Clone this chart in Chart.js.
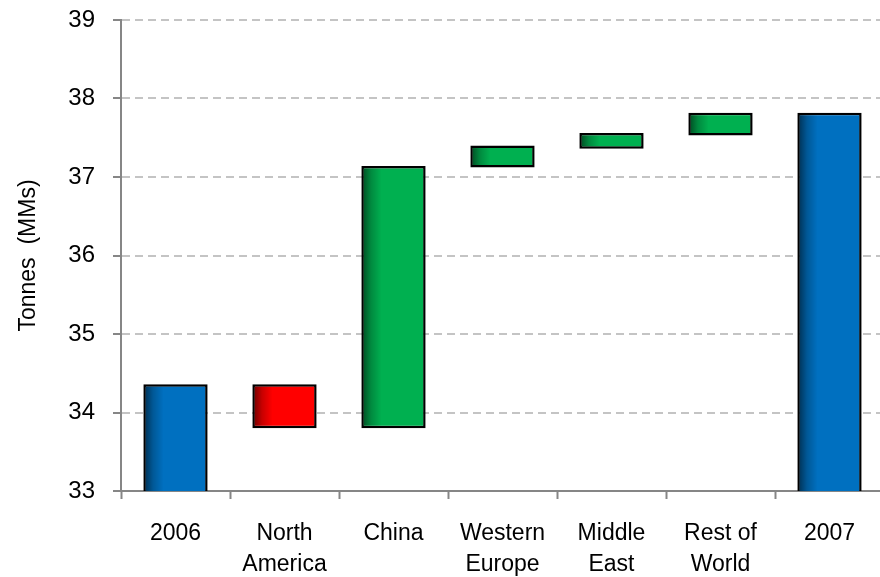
<!DOCTYPE html>
<html>
<head>
<meta charset="utf-8">
<script src="https://cdn.jsdelivr.net/npm/chart.js@4.4.1/dist/chart.umd.min.js"></script>
<style>
  html, body { margin: 0; padding: 0; background: #fff; overflow: hidden; }
  #wrap { position: relative; width: 884px; height: 577px; }
</style>
</head>
<body>
<div id="wrap"><canvas id="chart"></canvas></div>
<script>
// waterfall: 2006 -> regional changes -> 2007 (Tonnes, MMs)
const categories = ["2006", ["North", "America"], "China", ["Western", "Europe"], ["Middle", "East"], ["Rest of", "World"], "2007"];
const barLow  = [null, 33.80, 33.80, 37.12, 37.36, 37.53, null];   // null = total bar from zero
const barHigh = [34.36, 34.36, 37.14, 37.40, 37.56, 37.82, 37.82];
const barKind = ["total", "down", "up", "up", "up", "up", "total"];
const yTicks  = [33, 34, 35, 36, 37, 38, 39];

const COLORS = { total: "#0070C0", down: "#FF0000", up: "#00B050" };
const FONT = "'Liberation Sans', Arial, sans-serif";

// darker shade on the left edge of each bar (Excel-style)
const barShade = {
  id: "barShade",
  afterDatasetDraw(chart, args) {
    const { ctx, chartArea: a } = chart;
    const bw = 2.5;
    ctx.save();
    ctx.beginPath();
    ctx.rect(a.left, a.top, a.right - a.left, a.bottom - a.top);
    ctx.clip();
    args.meta.data.forEach((el) => {
      const { x, y, base, width } = el.getProps(["x", "y", "base", "width"], true);
      const left = x - width / 2 + bw, top = Math.min(y, base) + bw;
      const w = width - 2 * bw, h = Math.abs(base - y) - 2 * bw;
      const g = ctx.createLinearGradient(left, 0, left + w * 0.3, 0);
      g.addColorStop(0, "rgba(0,0,0,0.5)");
      g.addColorStop(0.4, "rgba(0,0,0,0.22)");
      g.addColorStop(1, "rgba(0,0,0,0)");
      ctx.fillStyle = g;
      ctx.fillRect(left, top, w * 0.3, h);
    });
    ctx.restore();
  },
};

new Chart(document.getElementById("chart"), {
  type: "bar",
  data: {
    labels: categories,
    datasets: [{
      data: barHigh.map((h, i) => [barLow[i] ?? 0, h]),
      backgroundColor: barKind.map((k) => COLORS[k]),
      borderColor: "#000",
      borderWidth: 2.5,
      borderSkipped: false,
      categoryPercentage: 1,
      barPercentage: 0.59,
    }],
  },
  options: {
    responsive: true, maintainAspectRatio: false, animation: false,
    layout: { padding: { top: 20, left: 0, right: 0, bottom: 0 } },
    plugins: { legend: { display: false }, tooltip: { enabled: false } },
    scales: {
      x: {
        grid: { display: true, drawOnChartArea: false, drawTicks: true, tickLength: 8, tickColor: "#868686", tickWidth: 2, offset: true },
        border: { display: true, color: "#868686", width: 2 },
        ticks: { color: "#000", padding: 19, maxRotation: 0, autoSkip: false, font: { family: FONT, size: 23, lineHeight: 1.35 } },
        afterFit: (s) => { s.height = 86; s.paddingLeft = 0; s.paddingRight = 0; },
      },
      y: {
        min: 33, max: 39,
        afterBuildTicks: (s) => { s.ticks = yTicks.map((v) => ({ value: v })); },
        grid: { color: "#c4c4c4", lineWidth: 2, tickLength: 8, tickColor: "#868686", tickWidth: 2, tickBorderDash: [] },
        border: { display: true, color: "#868686", width: 2, dash: [8, 5] },
        ticks: { color: "#000", padding: 18, font: { family: FONT, size: 24 } },
        title: { display: true, text: "Tonnes  (MMs)", color: "#000", padding: { top: 15, bottom: 0 }, font: { family: FONT, size: 23 } },
        afterFit: (s) => { s.width = 121; s.paddingTop = 0; s.paddingBottom = 0; },
      },
    },
  },
  plugins: [barShade],
});
</script>
</body>
</html>
